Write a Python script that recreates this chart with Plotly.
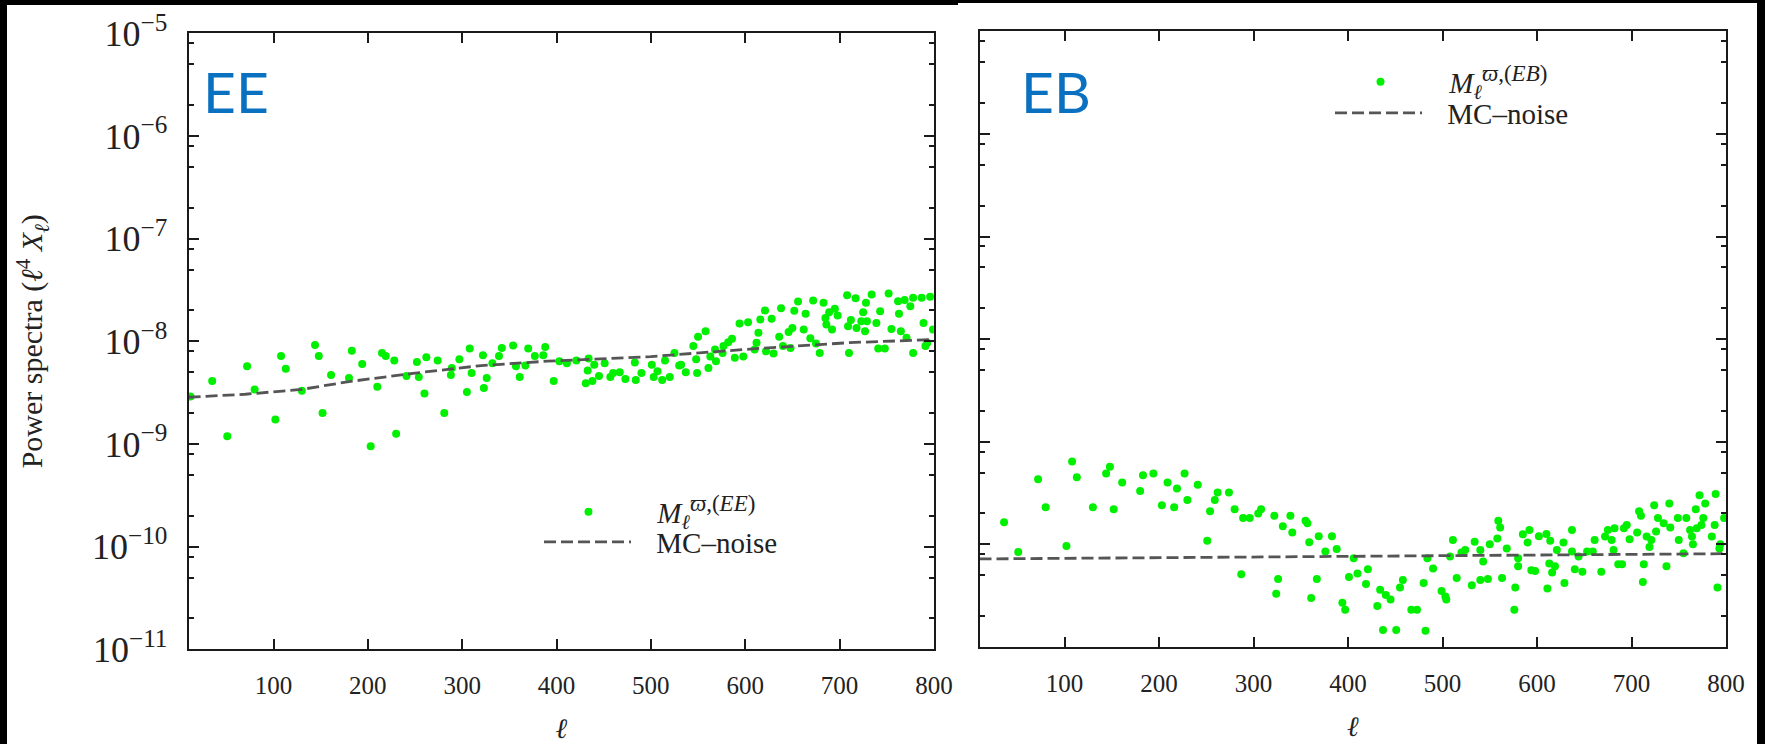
import plotly.graph_objects as go

# ---------------- data ----------------
ee_ell = [12, 35, 51, 72, 80, 102, 108, 113, 130, 144, 148, 152, 161, 180, 183, 194, 203, 210, 215, 219,
          228, 230, 241, 252, 254, 260, 262, 274, 281, 289, 288, 297, 305, 308, 310, 322, 323, 326, 332, 339,
          342, 354, 357, 361, 367, 370, 377, 386, 388, 397, 403, 411, 421, 431, 434, 433, 438, 440, 445, 451,
          457, 460, 467, 473, 483, 484, 490, 501, 503, 507, 512, 515, 520, 525, 530, 532, 537, 545, 550, 549,
          548, 558, 561, 563, 568, 569, 576, 577, 582, 586, 589, 594, 598, 603, 610, 612, 614, 616, 621, 622,
          628, 630, 636, 638, 640, 646, 648, 652, 650, 656, 662, 664, 669, 672, 675, 679, 683, 685, 686, 689,
          692, 695, 698, 708, 709, 710, 712, 717, 718, 723, 725, 727, 728, 729, 734, 739, 741, 743, 748, 752,
          755, 762, 763, 765, 769, 771, 775, 778, 778, 787, 789, 791, 793, 796, 799]
ee_val = [2.9e-9, 4.1e-9, 1.19e-9, 5.7e-9, 3.4e-9, 1.73e-9, 7.2e-9, 5.4e-9, 3.3e-9, 9.2e-9,
          7.2e-9, 2.0e-9, 4.7e-9, 4.4e-9, 8.1e-9, 6.0e-9, 9.5e-10, 3.6e-9, 7.7e-9, 7.2e-9,
          6.5e-9, 1.26e-9, 4.6e-9, 6.3e-9, 4.5e-9, 3.1e-9, 7.0e-9, 6.5e-9, 2.0e-9, 5.5e-9,
          4.7e-9, 6.7e-9, 3.2e-9, 8.5e-9, 4.9e-9, 7.3e-9, 3.5e-9, 4.4e-9, 6.1e-9, 7.2e-9,
          8.6e-9, 9.1e-9, 5.7e-9, 4.5e-9, 5.8e-9, 8.5e-9, 7.2e-9, 7.3e-9, 8.8e-9, 4.1e-9,
          6.4e-9, 6.1e-9, 6.5e-9, 3.9e-9, 6.8e-9, 5.2e-9, 4.1e-9, 5.9e-9, 4.6e-9, 6.1e-9,
          4.5e-9, 4.9e-9, 5.0e-9, 4.3e-9, 6.2e-9, 4.2e-9, 4.9e-9, 5.9e-9, 4.5e-9, 5.1e-9,
          4.2e-9, 6.5e-9, 4.5e-9, 7.7e-9, 5.8e-9, 5.9e-9, 5.0e-9, 9.0e-9, 1.11e-8, 4.9e-9,
          6.7e-9, 1.25e-8, 5.5e-9, 7.1e-9, 8.3e-9, 6.4e-9, 7.7e-9, 9.0e-9, 9.8e-9, 1.06e-8,
          6.9e-9, 1.49e-8, 7.1e-9, 1.53e-8, 8.3e-9, 9.7e-9, 1.21e-8, 1.63e-8, 2.0e-8, 8.0e-9,
          1.66e-8, 7.6e-9, 1.11e-8, 2.1e-8, 9.0e-9, 1.23e-8, 8.6e-9, 1.98e-8, 1.35e-8, 2.44e-8,
          1.30e-8, 1.85e-8, 1.07e-8, 2.5e-8, 9.5e-9, 7.7e-9, 2.37e-8, 1.69e-8, 1.46e-8, 1.92e-8,
          1.30e-8, 2.07e-8, 1.78e-8, 2.81e-8, 1.40e-8, 7.7e-9, 1.61e-8, 2.63e-8, 1.35e-8, 1.57e-8,
          1.92e-8, 1.25e-8, 2.37e-8, 1.57e-8, 2.86e-8, 1.51e-8, 8.5e-9, 1.96e-8, 8.5e-9, 2.92e-8,
          1.32e-8, 2.46e-8, 1.85e-8, 1.25e-8, 2.52e-8, 1.08e-8, 2.2e-8, 2.65e-8, 7.7e-9, 2.65e-8,
          1.51e-8, 9.0e-9, 9.7e-9, 2.72e-8, 1.30e-8]

ee_noise_ell = [10, 70, 130, 180, 250, 320, 390, 500, 605, 710, 800]
ee_noise_val = [2.85e-9, 3.05e-9, 3.4e-9, 4.05e-9, 4.9e-9, 5.8e-9, 6.4e-9, 7.1e-9, 8.4e-9, 9.7e-9, 1.04e-8]

eb_ell = [36, 51, 72, 80, 102, 108, 113, 130, 144, 148, 152, 161, 180, 183, 194, 203, 209, 216, 219, 227,
          230, 241, 251, 254, 259, 262, 274, 280, 287, 289, 296, 305, 308, 322, 324, 326, 331, 339, 341, 355,
          357, 359, 361, 367, 369, 376, 383, 388, 394, 397, 401, 406, 410, 419, 421, 431, 434, 437, 440, 445,
          451, 455, 458, 467, 473, 480, 482, 484, 490, 499, 503, 504, 508, 511, 515, 520, 524, 531, 534, 540,
          540, 543, 548, 550, 558, 559, 561, 563, 568, 576, 577, 580, 580, 585, 590, 592, 594, 598, 602, 610,
          611, 613, 614, 616, 619, 621, 628, 629, 637, 637, 640, 644, 648, 653, 659, 661, 668, 672, 675, 679,
          681, 682, 686, 690, 692, 695, 698, 706, 708, 710, 713, 712, 716, 719, 721, 724, 726, 728, 734, 737,
          740, 741, 749, 750, 755, 758, 762, 764, 765, 768, 769, 772, 774, 776, 778, 785, 788, 789, 791, 793,
          794, 798]
eb_val = [1.64e-10, 8.4e-11, 4.3e-10, 2.3e-10, 9.6e-11, 6.4e-10, 4.5e-10, 2.3e-10, 4.9e-10, 5.7e-10,
          2.2e-10, 4.0e-10, 3.3e-10, 4.7e-10, 4.9e-10, 2.4e-10, 4.0e-10, 2.3e-10, 3.5e-10, 4.9e-10,
          2.7e-10, 3.8e-10, 1.08e-10, 2.1e-10, 2.7e-10, 3.2e-10, 3.2e-10, 2.2e-10, 5.1e-11, 1.8e-10,
          1.8e-10, 2.0e-10, 2.2e-10, 1.9e-10, 3.3e-11, 4.6e-11, 1.5e-10, 1.9e-10, 1.3e-10, 1.7e-10,
          1.6e-10, 1.05e-10, 3.0e-11, 4.6e-11, 1.2e-10, 8.5e-11, 1.2e-10, 9.0e-11, 2.7e-11, 2.3e-11,
          4.8e-11, 7.3e-11, 5.2e-11, 4.1e-11, 5.7e-11, 2.5e-11, 3.6e-11, 1.46e-11, 3.2e-11, 2.9e-11,
          1.46e-11, 3.8e-11, 4.5e-11, 2.3e-11, 2.3e-11, 4.2e-11, 1.44e-11, 7.3e-11, 5.8e-11, 3.5e-11,
          3.1e-11, 2.9e-11, 7.6e-11, 1.1e-10, 4.7e-11, 8.3e-11, 8.8e-11, 4.0e-11, 1.06e-10, 4.5e-11,
          8.8e-11, 6.8e-11, 4.6e-11, 1.0e-10, 1.14e-10, 1.7e-10, 1.46e-10, 4.7e-11, 9.1e-11, 2.3e-11,
          3.8e-11, 7.3e-11, 6.1e-11, 1.25e-10, 1.04e-10, 1.38e-10, 5.6e-11, 5.5e-11, 1.2e-10, 1.26e-10,
          3.7e-11, 6.5e-11, 1.08e-10, 5.3e-11, 6.1e-11, 8.8e-11, 1.04e-10, 4.2e-11, 1.38e-10, 8.5e-11,
          5.7e-11, 7.6e-11, 5.4e-11, 8.5e-11, 8.5e-11, 1.1e-10, 5.4e-11, 1.19e-10, 1.38e-10, 1.1e-10,
          8.8e-11, 1.43e-10, 6.4e-11, 6.4e-11, 1.43e-10, 1.54e-10, 1.12e-10, 1.3e-10, 2.1e-10, 1.9e-10,
          6.4e-11, 4.3e-11, 1.19e-10, 9.4e-11, 1.1e-10, 2.4e-10, 1.33e-10, 1.8e-10, 1.6e-10, 6.1e-11,
          2.5e-10, 1.46e-10, 1.8e-10, 1.1e-10, 8.2e-11, 1.8e-10, 1.38e-10, 1.19e-10, 1.0e-10, 2.2e-10,
          1.43e-10, 3.0e-10, 1.54e-10, 1.8e-10, 2.5e-10, 1.19e-10, 1.54e-10, 3.1e-10, 3.8e-11, 9.1e-11,
          1.0e-10, 1.8e-10]

eb_noise_ell = [10, 200, 400, 600, 800]
eb_noise_val = [7.2e-11, 7.4e-11, 7.6e-11, 7.85e-11, 8.1e-11]

x_ticks = [100, 200, 300, 400, 500, 600, 700, 800]
y_major = [1e-11, 1e-10, 1e-9, 1e-8, 1e-7, 1e-6, 1e-5]
y_major_text = ["10<sup>−11</sup>", "10<sup>−10</sup>", "10<sup>−9</sup>", "10<sup>−8</sup>",
                "10<sup>−7</sup>", "10<sup>−6</sup>", "10<sup>−5</sup>"]
y_minor = [m * d for d in [1e-11, 1e-10, 1e-9, 1e-8, 1e-7, 1e-6] for m in (2, 5, 8)]

PAD = "\u2002\u2009"   # gap between legend symbol and its text
label_ee = PAD + "<i>M</i><sub><i>ℓ</i></sub><sup><span style='font-size:23px'><i>ϖ</i>,(<i>EE</i>)</span></sup>"
label_eb = PAD + "<i>M</i><sub><i>ℓ</i></sub><sup><span style='font-size:23px'><i>ϖ</i>,(<i>EB</i>)</span></sup>"
label_noise = PAD + "MC–noise"

# ---------------- styling ----------------
W, H = 1765, 744
SERIF = "Liberation Serif, DejaVu Serif, serif"
GREEN = "#00f000"
NOISE = "#555555"
AX = "#1a1a1a"

# plot-area pixel boxes
L_box = dict(x0=188.6, x1=933.9, top=33.3, bottom=649.3)
R_box = dict(x0=979.5, x1=1726.0, top=31.3, bottom=646.9)

def xdom(b):
    return [b["x0"] / W, b["x1"] / W]

def ydom(b):
    return [(H - b["bottom"]) / H, (H - b["top"]) / H]

fig = go.Figure()

fig.add_trace(go.Scatter(x=ee_ell, y=ee_val, mode="markers", name=label_ee,
                         marker=dict(size=8, color=GREEN), xaxis="x", yaxis="y",
                         legend="legend"))
fig.add_trace(go.Scatter(x=ee_noise_ell, y=ee_noise_val, mode="lines", name=label_noise,
                         line=dict(color=NOISE, width=2.8, dash="12px,5px"),
                         xaxis="x", yaxis="y", legend="legend2"))
fig.add_trace(go.Scatter(x=eb_ell, y=eb_val, mode="markers", name=label_eb,
                         marker=dict(size=8, color=GREEN), xaxis="x2", yaxis="y2",
                         legend="legend3"))
fig.add_trace(go.Scatter(x=eb_noise_ell, y=eb_noise_val, mode="lines", name=label_noise,
                         line=dict(color=NOISE, width=2.8, dash="12px,5px"),
                         xaxis="x2", yaxis="y2", legend="legend4"))

common = dict(showline=True, linewidth=2, linecolor=AX, mirror="ticks",
              ticks="inside", ticklen=10, tickwidth=1.5, tickcolor=AX,
              showgrid=False, zeroline=False, automargin=False)

xcommon = dict(common, range=[10, 800], tickmode="array", tickvals=x_ticks,
               ticklabelstandoff=13, tickfont=dict(family=SERIF, size=25, color="#222"),
               title=dict(text="<i>ℓ</i>", font=dict(family=SERIF, size=28, color="#222"),
                          standoff=20))
ycommon = dict(common, type="log", range=[-11, -5], tickmode="array", tickvals=y_major,
               ticktext=y_major_text, ticklabelstandoff=12,
               tickfont=dict(family=SERIF, size=36, color="#222"),
               minor=dict(tickmode="array", tickvals=y_minor, ticks="inside", ticklen=5,
                          tickwidth=1.5, tickcolor=AX, showgrid=False))

leg = dict(xanchor="left", yanchor="middle", bgcolor="rgba(0,0,0,0)", itemwidth=87,
           font=dict(family=SERIF, size=29, color="#222"))

fig.update_layout(
    width=W, height=H,
    margin=dict(l=0, r=0, t=0, b=0, autoexpand=False),
    paper_bgcolor="white", plot_bgcolor="white",
    template="none",
    xaxis=dict(xcommon, domain=xdom(L_box), anchor="y"),
    yaxis=dict(ycommon, domain=ydom(L_box), anchor="x",
               title=dict(text="Power spectra (<i>ℓ</i><sup>4</sup> <i>X</i><sub><i>ℓ</i></sub>)",
                          font=dict(family=SERIF, size=30, color="#222"), standoff=40)),
    xaxis2=dict(xcommon, domain=xdom(R_box), anchor="y2"),
    yaxis2=dict(ycommon, domain=ydom(R_box), anchor="x2", showticklabels=False),
    legend=dict(leg, x=540 / W, y=(H - 512) / H),
    legend2=dict(leg, x=539 / W, y=(H - 542) / H),
    legend3=dict(leg, x=1332 / W, y=(H - 82) / H),
    legend4=dict(leg, x=1330 / W, y=(H - 113) / H),
    showlegend=True,
)

# panel labels
fig.add_annotation(text="EE", xref="paper", yref="paper", x=201 / W, y=(H - 91) / H,
                   xanchor="left", yanchor="middle", showarrow=False,
                   font=dict(family="Lato, Noto Sans, sans-serif", size=57, color="#0a70c0"))
fig.add_annotation(text="EB", xref="paper", yref="paper", x=1019 / W, y=(H - 91) / H,
                   xanchor="left", yanchor="middle", showarrow=False,
                   font=dict(family="Lato, Noto Sans, sans-serif", size=57, color="#0a70c0"))

# black frame of the picture
for (x0, x1, y0, y1) in [(0, 7, 0, H), (1757, W, 0, H), (0, 958, 0, 5), (958, W, 0, 3)]:
    fig.add_shape(type="rect", xref="paper", yref="paper",
                  x0=x0 / W, x1=x1 / W, y0=(H - y1) / H, y1=(H - y0) / H,
                  line=dict(width=0), fillcolor="black", layer="below")

fig.write_html("out.html")
